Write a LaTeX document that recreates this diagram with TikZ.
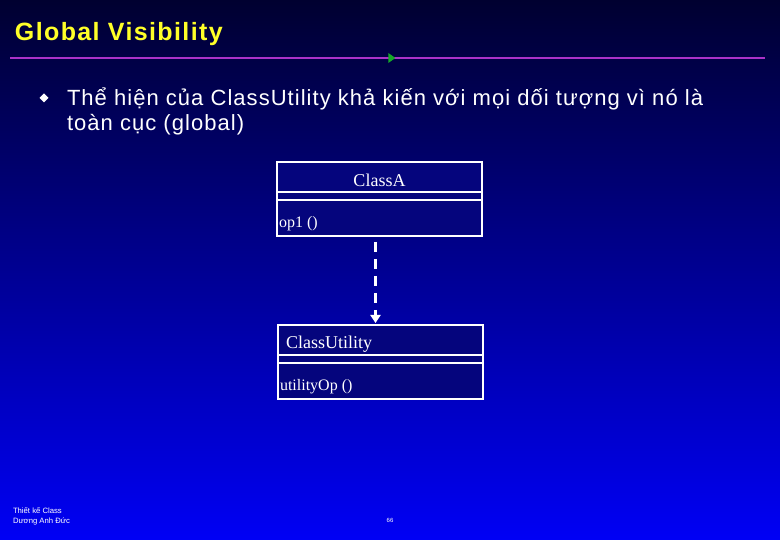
\documentclass[tikz,border=0pt]{standalone}
\usepackage{fontspec}
\setmainfont{Liberation Sans}
\newfontfamily\boxfont{Liberation Serif}
\usetikzlibrary{arrows.meta,shapes.geometric}

\definecolor{bgtop}{RGB}{0,0,48}
\definecolor{bgbottom}{RGB}{0,0,245}
\definecolor{titleyellow}{RGB}{255,255,40}
\definecolor{rulepurple}{RGB}{170,50,200}
\definecolor{markgreen}{RGB}{20,170,40}
\definecolor{boxnavy}{RGB}{5,5,125}

\begin{document}
\begin{tikzpicture}[x=1pt,y=-1pt,
  every node/.style={outer sep=0pt},
  part/.style={draw=white, line width=2.5pt, fill=boxnavy, minimum width=205pt, inner sep=0pt},
  label/.style={text=white, font=\boxfont\fontsize{16}{18}\selectfont, inner sep=2pt},
  classname/.style={label, font=\boxfont\fontsize{18}{20}\selectfont},
  dep/.style={draw=white, line width=3pt, dash pattern=on 10pt off 7pt, -{Triangle[length=8pt,width=10pt]}}]
\useasboundingbox (0,0) rectangle (780,540);
\shade[top color=bgtop, bottom color=bgbottom] (0,0) rectangle (780,540);

% title and rule
\node[anchor=base west, text=titleyellow, font=\addfontfeature{LetterSpace=5.5}\bfseries\fontsize{25}{28}\selectfont, inner sep=0pt] (title) at (15,41) {Global Visibility};
\draw[rulepurple, line width=2.5pt] (10,58) -- (765,58);
\node[isosceles triangle, isosceles triangle apex angle=70, fill=markgreen, minimum size=7pt, inner sep=0pt] (mark) at (391,58) {};

% bullet
\node[diamond, fill=white, minimum size=9pt, inner sep=0pt] (dot) at (44,98) {};
\node[anchor=base west, align=left, text=white, font=\addfontfeature{LetterSpace=4.7}\fontsize{22}{25}\selectfont, inner sep=0pt] (bullet) at (67,131)
  {Thể hiện của ClassUtility khả kiến với mọi dối tượng vì nó là\\toàn cục (global)};

% ClassA
\node[part, minimum height=30pt] (aName) at (379.5,177) {};
\node[part, minimum height=8pt] (aAttr) at (379.5,196) {};
\node[part, minimum height=36pt] (aOps) at (379.5,218) {};
\node[classname] (aText) at ([yshift=-3pt]aName.center) {ClassA};
\node[label, anchor=west] (aOp) at ([yshift=-6pt]aOps.west) {op1 ()};

% ClassUtility
\node[part, minimum height=30pt] (uName) at (380.5,340) {};
\node[part, minimum height=8pt] (uAttr) at (380.5,359) {};
\node[part, minimum height=36pt] (uOps) at (380.5,381) {};
\node[classname, anchor=west] (uText) at ([xshift=6pt,yshift=-4pt]uName.west) {ClassUtility};
\node[label, anchor=west] (uOp) at ([yshift=-6pt]uOps.west) {utilityOp ()};

\draw[dep] ([xshift=-4pt,yshift=-6pt]aOps.south) -- ([xshift=-5pt,yshift=2pt]uName.north);

% footer
\node[anchor=north west, align=left, text=white, font=\fontsize{7.7}{9.5}\selectfont, inner sep=0pt] (foot) at (13,508)
  {Thiết kế Class\\Dương Anh Đức};
\node[text=white, font=\fontsize{6}{7}\selectfont, inner sep=0pt] (page) at (390,520) {66};
\end{tikzpicture}
\end{document}
